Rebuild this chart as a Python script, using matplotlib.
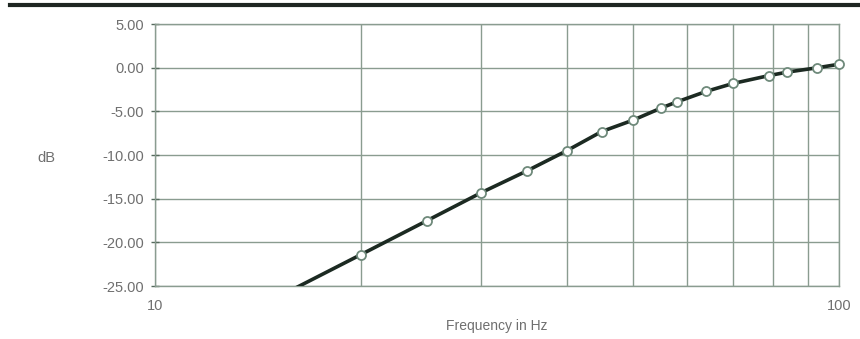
import matplotlib
matplotlib.use("Agg")
import matplotlib.pyplot as plt
from matplotlib.lines import Line2D
from matplotlib.ticker import FixedLocator, NullFormatter

# Response measured at each frequency
freq_hz = [15, 20, 25, 30, 35, 40, 45, 50, 55, 58, 64, 70, 79, 84, 93, 100]
level_db = [-26.4, -21.4, -17.5, -14.3, -11.8, -9.5, -7.3, -6.0, -4.6, -3.9,
            -2.7, -1.8, -0.9, -0.5, 0.0, 0.4]

y_ticks = [5, 0, -5, -10, -15, -20, -25]
y_labels = ["5.00", "0.00", "-5.00", "-10.00", "-15.00", "-20.00", "-25.00"]
x_major = [10, 100]
x_minor = [20, 30, 40, 50, 60, 70, 80, 90]

plt.rcParams['font.family'] = ['Liberation Sans', 'DejaVu Sans']
grid_col = '#8a9c90'
text_col = '#6f6f6f'

fig = plt.figure(figsize=(8.6, 3.39), dpi=100)
ax = fig.add_axes([0.180, 0.156, 0.7956, 0.773])

# the curve is clipped to the plot area, the markers are not (so the 100 Hz one stays whole)
ax.plot(freq_hz, level_db, color='#1c2a22', lw=2.6, zorder=3)
ax.plot(freq_hz[1:], level_db[1:], ls='none', marker='o', ms=6.5,
        mfc='white', mec='#6f8a7b', mew=1.3, zorder=4, clip_on=False)

ax.set_xscale('log')
ax.set_xlim(10, 100)
ax.set_ylim(-25, 5)

ax.xaxis.set_major_locator(FixedLocator(x_major))
ax.xaxis.set_minor_locator(FixedLocator(x_minor))
ax.xaxis.set_minor_formatter(NullFormatter())
ax.set_xticklabels(["10", "100"])
ax.set_yticks(y_ticks)
ax.set_yticklabels(y_labels)

ax.grid(True, which='both', color=grid_col, lw=1.0)
ax.tick_params(axis='x', which='both', length=0, pad=9, labelsize=10.5,
               labelcolor=text_col)
ax.tick_params(axis='y', length=6, direction='inout', color='#556a5d',
               width=1.0, pad=5, labelsize=10.5, labelcolor=text_col)
for side in ['left', 'right', 'top', 'bottom']:
    ax.spines[side].set_color(grid_col)
    ax.spines[side].set_linewidth(1.0)

fig.text(0.578, 0.038, "Frequency in Hz", color=text_col, fontsize=10,
         ha='center', va='center')
fig.text(0.043, 0.535, "dB", color=text_col, fontsize=10.5, va='center')

# heavy rule across the top of the page
fig.add_artist(Line2D([0.012, 1.0], [0.984, 0.984], color='#1e2622', lw=3,
                      transform=fig.transFigure))

fig.savefig("out.png", dpi=100, facecolor='white')
